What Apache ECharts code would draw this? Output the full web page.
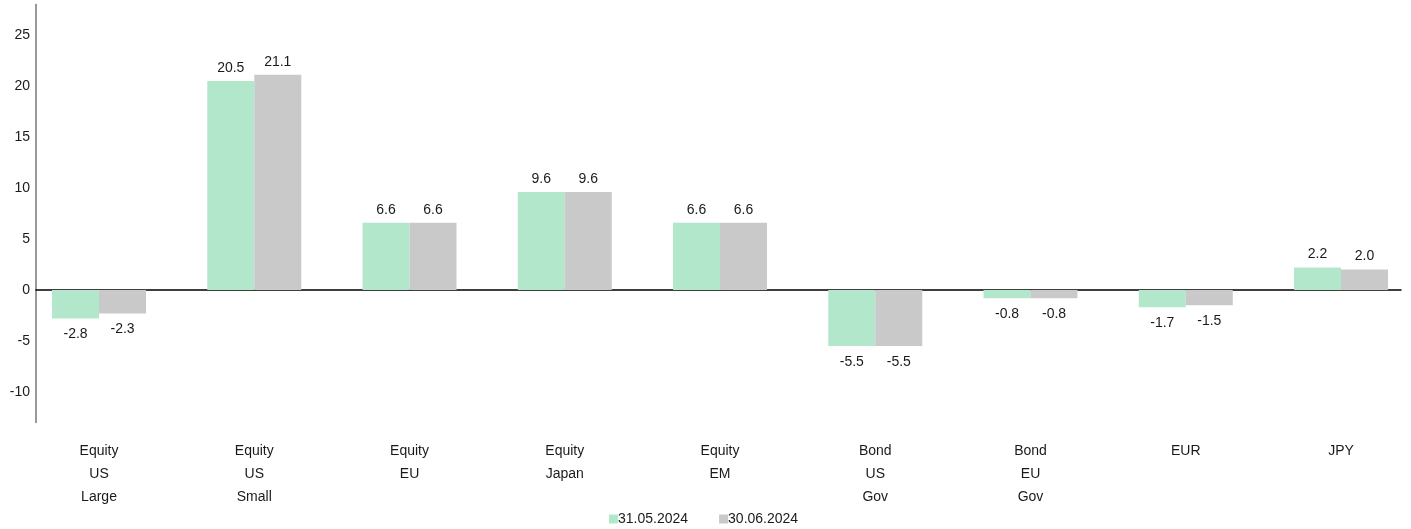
<!DOCTYPE html>
<html><head><meta charset="utf-8">
<script src="https://cdn.jsdelivr.net/npm/echarts@6/dist/echarts.min.js"></script>
<style>html,body{margin:0;padding:0;background:#fff;overflow:hidden;width:1411px;height:529px}#c{width:1430px;height:529px}</style>
</head><body><div id="c"></div>
<script>
const categories = ['Equity\nUS\nLarge','Equity\nUS\nSmall','Equity\nEU','Equity\nJapan','Equity\nEM','Bond\nUS\nGov','Bond\nEU\nGov','EUR','JPY'];
const seriesNames = ['31.05.2024','30.06.2024'];
const may = [-2.8, 20.5, 6.6, 9.6, 6.6, -5.5, -0.8, -1.7, 2.2];
const june = [-2.3, 21.1, 6.6, 9.6, 6.6, -5.5, -0.8, -1.5, 2.0];
const yTicks = [-10, -5, 0, 5, 10, 15, 20, 25];

const font = 'Liberation Sans, Arial, sans-serif';
const chart = echarts.init(document.getElementById('c'));
const labelCfg = {
  show: true, fontFamily: font, fontSize: 14, color: '#1a1a1a',
  formatter: p => p.value.toFixed(1)
};
function mk(name, data, color) {
  return {
    name, type: 'bar', xAxisIndex: 1, yAxisIndex: 1, barWidth: 47, barGap: '0%',
    itemStyle: { color },
    data: data.map(v => ({ value: v, label: Object.assign({}, labelCfg, { position: v >= 0 ? 'top' : 'bottom', distance: v >= 0 ? 6 : 9 }) })),
    animation: false
  };
}
chart.setOption({
  animation: false,
  grid: [
    { left: 36, width: 1365, top: 4.4, height: 418.2 },
    { left: 21.4, width: 1397.25, top: 4.4, height: 418.2 }
  ],
  legend: {
    bottom: 3, left: 609, padding: 0, itemWidth: 9, itemHeight: 9, itemGap: 31,
    icon: 'rect',
    textStyle: { fontFamily: font, fontSize: 14, color: '#1a1a1a', padding: [0, 0, 0, -5] },
    data: seriesNames
  },
  xAxis: [
    { gridIndex: 0, type: 'value', min: 0, max: 1, axisLine: { show: true, onZero: true, lineStyle: { color: '#000', width: 1.5 } },
      axisTick: { show: false }, axisLabel: { show: false }, splitLine: { show: false } },
    { gridIndex: 1, type: 'category', data: categories, position: 'bottom',
      axisLine: { show: false, onZero: false }, axisTick: { show: false }, splitLine: { show: false },
      axisLabel: { fontFamily: font, fontSize: 14, color: '#1a1a1a', lineHeight: 23, margin: 17, interval: 0 } }
  ],
  yAxis: [
    { gridIndex: 0, type: 'value', min: -13, max: 28,
      axisLine: { show: true, onZero: false, lineStyle: { color: '#777', width: 1.5 } },
      axisTick: { show: false }, splitLine: { show: false },
      axisLabel: { customValues: yTicks, fontFamily: font, fontSize: 14, color: '#1a1a1a', margin: 6 } },
    { gridIndex: 1, type: 'value', min: -13, max: 28, show: false, splitLine: { show: false } }
  ],
  series: [ mk(seriesNames[0], may, '#b3e7cc'), mk(seriesNames[1], june, '#c9c9c9') ]
});
</script></body></html>
